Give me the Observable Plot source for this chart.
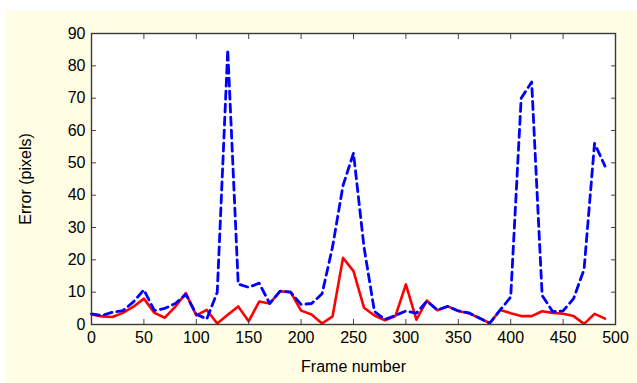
<!DOCTYPE html>
<html>
<head>
<meta charset="utf-8">
<script src="https://cdn.jsdelivr.net/npm/d3@7"></script>
<script src="https://cdn.jsdelivr.net/npm/@observablehq/plot@0.6"></script>
<style>
  html, body { margin: 0; padding: 0; background: #ffffff; }
  #wrap { position: relative; width: 637px; height: 383px; overflow: hidden; }
  #panel { position: absolute; left: 6px; top: 11px; width: 631px; height: 372px; background: #fffde4; }
  #chart { position: absolute; left: 0; top: 0; }
  #chart svg { background: transparent; }
</style>
</head>
<body>
<div id="wrap"><div id="panel"></div><div id="chart"></div></div>
<script>
const frames = [0,10,20,30,40,50,60,70,80,90,100,110,120,130,140,150,160,170,180,190,200,210,220,230,240,250,260,270,280,290,300,310,320,330,340,350,360,370,380,390,400,410,420,430,440,450,460,470,480,490];
const redError = [3.1,2.5,2.3,3.6,5.5,8.0,3.6,2.1,5.5,9.7,2.8,4.5,0.3,3.0,5.6,1.0,7.1,6.5,10.3,10.0,4.3,3.1,0.3,2.5,20.6,16.5,5.2,2.8,1.3,2.6,12.4,1.5,7.4,4.4,5.6,4.2,3.5,2.0,0.4,4.5,3.5,2.6,2.6,4.1,3.6,3.3,2.6,0.2,3.3,1.8];
const blueError = [3.3,2.8,3.8,4.3,7.0,10.7,4.3,5.0,6.5,9.3,3.2,1.7,10.0,85.0,12.5,11.5,12.8,6.5,10.3,10.0,6.2,6.5,9.5,24.0,43.0,53.0,24.0,4.0,1.6,2.8,4.2,3.5,7.2,4.5,5.6,4.2,3.6,2.0,0.4,4.5,8.5,70.0,75.0,9.0,4.0,4.2,8.0,17.0,56.0,49.0];
const xTicks = [0,50,100,150,200,250,300,350,400,450,500];
const yTicks = [0,10,20,30,40,50,60,70,80,90];

const red = frames.map((f, i) => ({frame: f, err: redError[i]}));
const blue = frames.map((f, i) => ({frame: f, err: blueError[i]}));

const font = "'Liberation Sans', Arial, Helvetica, sans-serif";

const chart = Plot.plot({
  width: 637,
  height: 383,
  marginLeft: 91,
  marginRight: 22,
  marginTop: 33,
  marginBottom: 59,
  style: {fontFamily: font, fontSize: "16px", color: "#000", background: "transparent"},
  x: {domain: [0, 500], label: null},
  y: {domain: [0, 90], label: null},
  marks: [
    Plot.frame({fill: "#ffffff"}),
    Plot.lineY(red, {x: "frame", y: "err", stroke: "#ff0000", strokeWidth: 2.6}),
    Plot.lineY(blue, {x: "frame", y: "err", stroke: "#0000ff", strokeWidth: 2.8, strokeDasharray: "8,5"}),
    Plot.axisX({ticks: xTicks, anchor: "bottom", tickSize: 0, tickPadding: 7, fontSize: 16, label: "Frame number", labelAnchor: "center", labelOffset: 47, labelArrow: "none"}),
    Plot.axisX({ticks: xTicks, anchor: "bottom", tickSize: -5, tickFormat: () => "", label: null, stroke: "#444"}),
    Plot.axisX({ticks: xTicks, anchor: "top", tickSize: -5, tickFormat: () => "", label: null, stroke: "#444"}),
    Plot.axisY({ticks: yTicks, anchor: "left", tickSize: 0, tickPadding: 6, fontSize: 16, label: "Error (pixels)", labelAnchor: "center", labelOffset: 72, labelArrow: "none"}),
    Plot.axisY({ticks: yTicks, anchor: "left", tickSize: -5, tickFormat: () => "", label: null, stroke: "#444"}),
    Plot.axisY({ticks: yTicks, anchor: "right", tickSize: -5, tickFormat: () => "", label: null, stroke: "#444"}),
    Plot.frame({stroke: "#3a3a3a", strokeWidth: 1.4})
  ]
});
document.getElementById("chart").appendChild(chart);
</script>
</body>
</html>
